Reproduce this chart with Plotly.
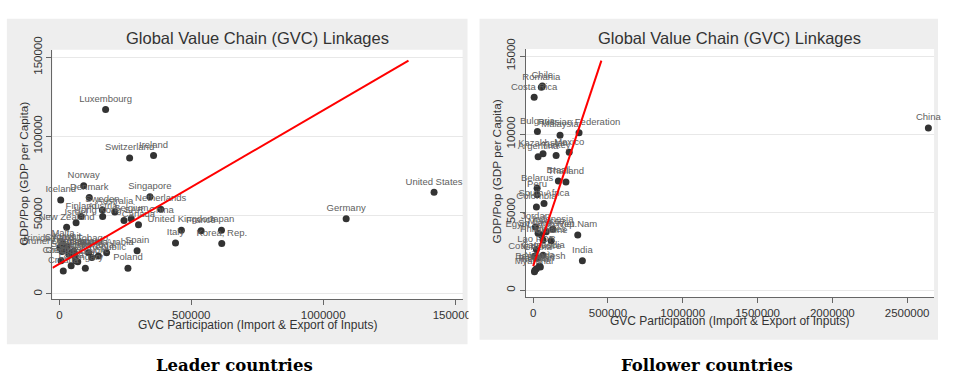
import plotly.graph_objects as go

# ---------------- Leader countries ----------------
leader_names = [
    "Luxembourg", "Switzerland", "Ireland", "Norway", "Iceland", "Denmark",
    "Singapore", "United States", "Netherlands", "Sweden", "Australia",
    "Austria", "Finland", "Israel", "New Zealand", "Hong Kong SAR, China",
    "Belgium", "Canada", "United Kingdom", "France", "Japan", "Italy",
    "Korea, Rep.", "Spain", "Poland", "Germany", "Malta", "Cyprus",
    "Brunei Darussalam", "Bahrain", "Kuwait", "Trinidad and Tobago",
    "Slovenia", "Oman", "Lithuania", "Czech Republic", "Slovak Republic",
    "Estonia", "Portugal", "Saudi Arabia", "Greece", "Uruguay", "Latvia",
    "Croatia", "Hungary",
]
leader_gvc = [
    175400, 266400, 357100, 92200, 5200, 113400,
    343300, 1420400, 384300, 163000, 210400,
    164200, 82800, 63400, 27600, 245100,
    272400, 300000, 462600, 537300, 614500, 440300,
    615600, 294700, 260000, 1087200, 13800, 1900,
    10100, 54900, 28700, 21300,
    36200, 47400, 110800, 62300, 123100,
    58600, 148100, 179100, 6300, 69800, 44800,
    14900, 98500,
]
leader_gdppc = [
    116900, 86100, 87700, 68500, 59500, 61200,
    61600, 64400, 53700, 53200, 52000,
    49100, 49100, 45100, 42200, 46500,
    47600, 43900, 40400, 40000, 40400, 32300,
    32000, 27400, 16300, 47600, 31800, 29400,
    26900, 27000, 30000, 28800,
    25100, 26300, 26100, 21100, 23100,
    23900, 24100, 26100, 21100, 20400, 17900,
    14500, 16300,
]
leader_fit_gvc = [-26000, 1323500]
leader_fit_gdppc = [16500, 147900]

# ---------------- Follower countries ----------------
follower_names = [
    "Chile", "Romania", "Costa Rica", "Bulgaria", "Malaysia",
    "Russian Federation", "China", "Kazakhstan", "Argentina", "Turkey",
    "Mexico", "Brazil", "Thailand", "Belarus", "Peru", "South Africa",
    "Colombia", "Jordan", "Indonesia", "Egypt, Arab Rep.", "Philippines",
    "Viet Nam", "India", "Lao PDR", "Sri Lanka", "Morocco", "Ukraine",
    "Cote d'Ivoire", "Cambodia", "Ghana", "Nigeria", "Bangladesh",
    "Pakistan", "Kenya", "Myanmar",
]
follower_gvc = [
    61200, 54600, 6600, 28300, 179600,
    306600, 2642000, 65800, 32900, 153300,
    240800, 168400, 219000, 26300, 26300, 72400,
    21700, 15100, 131600, 54600, 65800,
    298000, 328900, 21700, 32900, 87500, 120400,
    10500, 65800, 28300, 41400, 48000,
    21700, 11800, 8600,
]
follower_gdppc = [
    13090, 13000, 12360, 10170, 9930,
    10090, 10400, 8750, 8550, 8630,
    8840, 7000, 6940, 6530, 6120, 5560,
    5330, 4050, 3910, 3540, 3230,
    3540, 1890, 2610, 3650, 3750, 3170,
    2180, 2240, 2060, 1560, 1500,
    1380, 1290, 1190,
]
follower_fit_gvc = [0, 456000]
follower_fit_gdppc = [1550, 14710]

# ---------------- Axis ticks and text ----------------
leader_xticks = [0, 500000, 1000000, 1500000]
leader_yticks = [0, 50000, 100000, 150000]
follower_xticks = [0, 500000, 1000000, 1500000, 2000000, 2500000]
follower_yticks = [0, 5000, 10000, 15000]

chart_title = "Global Value Chain (GVC) Linkages"
x_title = "GVC Participation (Import & Export of Inputs)"
y_title = "GDP/Pop (GDP per Capita)"
captions = ["Leader countries", "Follower countries"]

W, H = 953, 376
SANS = "Liberation Sans, Arial, sans-serif"
PANEL = "#eeeeee"
INK = "#333333"


def fx(px):
    return px / W


def fy(py):
    return 1 - py / H


fig = go.Figure()

# scatter points with country labels and fitted lines
for names, xs, ys, fit_x, fit_y, ax in [
    (leader_names, leader_gvc, leader_gdppc, leader_fit_gvc, leader_fit_gdppc, ""),
    (follower_names, follower_gvc, follower_gdppc, follower_fit_gvc, follower_fit_gdppc, "2"),
]:
    fig.add_trace(go.Scatter(
        x=xs, y=ys, text=names, mode="markers+text",
        textposition="top center",
        textfont=dict(family=SANS, size=9.5, color="#606060"),
        marker=dict(size=7, color="#333333"),
        cliponaxis=False, showlegend=False,
        xaxis="x" + ax, yaxis="y" + ax,
    ))
    fig.add_trace(go.Scatter(
        x=fit_x, y=fit_y, mode="lines",
        line=dict(color="#ff0000", width=2),
        showlegend=False, xaxis="x" + ax, yaxis="y" + ax,
    ))

axis_common = dict(
    showline=True, linecolor="#666666", linewidth=1,
    ticks="outside", ticklen=5, tickcolor="#666666", tickwidth=1,
    tickfont=dict(family=SANS, size=11.5, color=INK),
    zeroline=False, mirror=False,
    tickformat="d",
)

fig.update_layout(
    width=W, height=H, autosize=False,
    margin=dict(l=0, r=0, t=0, b=0, pad=0),
    paper_bgcolor="white", plot_bgcolor="rgba(0,0,0,0)",
    xaxis=dict(domain=[fx(53.3), fx(470)], range=[-26100, 1528600],
               tickvals=leader_xticks, showgrid=False, anchor="y", **axis_common),
    yaxis=dict(domain=[fy(296.7), fy(38)], range=[-3490, 154800],
               tickvals=leader_yticks, tickangle=-90, showgrid=True,
               gridcolor="#e8e8e8", gridwidth=1, anchor="x", **axis_common),
    xaxis2=dict(domain=[fx(534), fx(949)], range=[-50700, 2680000],
                tickvals=follower_xticks, showgrid=False, anchor="y2", **axis_common),
    yaxis2=dict(domain=[fy(294.3), fy(37.3)], range=[-433, 15450],
                tickvals=follower_yticks, tickangle=-90, showgrid=True,
                gridcolor="#e8e8e8", gridwidth=1, anchor="x2", **axis_common),
)

shapes = [
    # gray outer panels
    dict(type="rect", xref="paper", yref="paper", x0=fx(7), x1=fx(475),
         y0=fy(343), y1=fy(6), fillcolor=PANEL, line_width=0, layer="below"),
    dict(type="rect", xref="paper", yref="paper", x0=fx(487), x1=fx(953),
         y0=fy(338.5), y1=fy(6), fillcolor=PANEL, line_width=0, layer="below"),
    # white plot regions
    dict(type="rect", xref="paper", yref="paper", x0=fx(53.3), x1=fx(470),
         y0=fy(296.7), y1=fy(38), fillcolor="white", line_width=0, layer="below"),
    dict(type="rect", xref="paper", yref="paper", x0=fx(534), x1=fx(949),
         y0=fy(294.3), y1=fy(37.3), fillcolor="white", line_width=0, layer="below"),
    # gap between the two panels
    dict(type="rect", xref="paper", yref="paper", x0=fx(476), x1=fx(487),
         y0=0, y1=1, fillcolor="white", line_width=0, layer="above"),
]
fig.update_layout(shapes=shapes)

ann = []
for cx, ty, xty, yx, yty, cap_x, cap in [
    (261.7, 26, 323, 25, 167, 238, captions[0]),
    (741.5, 26, 319.5, 505, 164, 718, captions[1]),
]:
    ann.append(dict(x=fx(cx), y=fy(ty), xref="paper", yref="paper", text=chart_title,
                    showarrow=False, xanchor="center", yanchor="middle",
                    font=dict(family=SANS, size=16.5, color=INK)))
    ann.append(dict(x=fx(cx), y=fy(xty), xref="paper", yref="paper", text=x_title,
                    showarrow=False, xanchor="center", yanchor="middle",
                    font=dict(family=SANS, size=12, color=INK)))
    ann.append(dict(x=fx(yx), y=fy(yty), xref="paper", yref="paper", text=y_title,
                    showarrow=False, xanchor="center", yanchor="middle", textangle=-90,
                    font=dict(family=SANS, size=11.8, color=INK)))
    ann.append(dict(x=fx(cap_x), y=fy(365), xref="paper", yref="paper",
                    text="<b>" + cap + "</b>",
                    showarrow=False, xanchor="center", yanchor="middle",
                    font=dict(family="DejaVu Serif, serif", size=16.5, color="black")))
fig.update_layout(annotations=ann)

# keep the fixed-size figure flush with the page edges
fig.write_html(
    "out.html",
    config={"responsive": False},
    post_script="document.body.style.margin='0';document.body.style.overflow='hidden';",
)
